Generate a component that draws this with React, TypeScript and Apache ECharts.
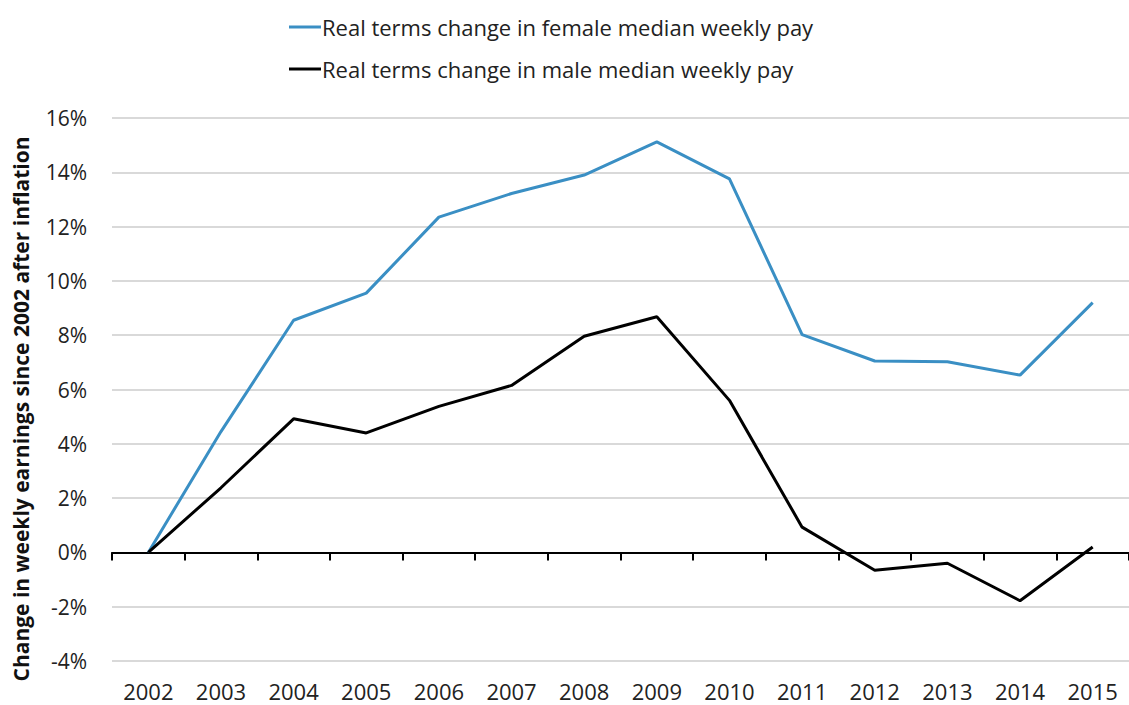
import React, { useEffect, useRef } from "react";
import * as echarts from "echarts";

const years = ["2002","2003","2004","2005","2006","2007","2008","2009","2010","2011","2012","2013","2014","2015"];
const female = [0, 4.45, 8.55, 9.55, 12.35, 13.22, 13.9, 15.12, 13.76, 8.02, 7.05, 7.02, 6.53, 9.2];
const male = [0, 2.38, 4.92, 4.4, 5.38, 6.15, 7.96, 8.68, 5.6, 0.93, -0.66, -0.4, -1.78, 0.2];
const femaleName = "Real terms change in female median weekly pay";
const maleName = "Real terms change in male median weekly pay";
const yTitle = "Change in weekly earnings since 2002 after inflation";

const FONT = "'Open Sans', Lato, sans-serif";

export default function App() {
  const ref = useRef<HTMLDivElement>(null);
  useEffect(() => {
    const chart = echarts.init(ref.current!, null, { renderer: "svg" });
    chart.setOption({
      animation: false,
      textStyle: { fontFamily: FONT },
      legend: {
        orient: "vertical",
        left: 284,
        top: 11,
        itemWidth: 32,
        itemHeight: 14,
        itemGap: 20,
        icon: "path://M0,6 L32,6 L32,9 L0,9 Z",
        textStyle: { fontSize: 22, color: "#222", fontFamily: FONT, padding: [0, 0, 0, -4] },
        data: [femaleName, maleName],
      },
      grid: { left: 112, right: 0, top: 118, bottom: 44 },
      xAxis: [
        {
          type: "category",
          data: years,
          boundaryGap: true,
          axisLine: { show: false, onZero: false },
          axisTick: { show: false },
          axisLabel: { fontSize: 22, color: "#222", margin: 19, fontFamily: FONT },
        },
        {
          type: "category",
          data: years,
          position: "bottom",
          boundaryGap: true,
          axisLine: { show: true, onZero: true, lineStyle: { color: "#000", width: 2 } },
          axisTick: { show: true, length: 8, lineStyle: { color: "#000", width: 2 } },
          axisLabel: { show: false },
        },
      ],
      yAxis: {
        type: "value",
        min: -4,
        max: 16,
        interval: 2,
        axisLine: { show: false },
        axisTick: { show: false },
        axisLabel: { formatter: "{value}%", fontSize: 21, color: "#222", margin: 25, fontFamily: FONT },
        splitLine: { lineStyle: { color: "#d9d9d9", width: 2 } },
      },
      graphic: [
        {
          type: "text",
          x: 21,
          y: 409,
          rotation: Math.PI / 2,
          style: {
            text: yTitle,
            fontSize: 21,
            fontWeight: "bold",
            fill: "#111",
            fontFamily: FONT,
            align: "center",
            verticalAlign: "middle",
          },
        },
      ],
      series: [
        {
          name: femaleName,
          type: "line",
          data: female,
          xAxisIndex: 0,
          symbol: "none",
          lineStyle: { color: "#3a8fc4", width: 3 },
          itemStyle: { color: "#3a8fc4" },
          z: 3,
        },
        {
          name: maleName,
          type: "line",
          data: male,
          xAxisIndex: 0,
          symbol: "none",
          lineStyle: { color: "#000", width: 3 },
          itemStyle: { color: "#000" },
          z: 4,
        },
      ],
    });
    return () => chart.dispose();
  }, []);
  return <div ref={ref} style={{ width: 1129, height: 705, position: "absolute", left: 0, top: 0, background: "#fff" }} />;
}
